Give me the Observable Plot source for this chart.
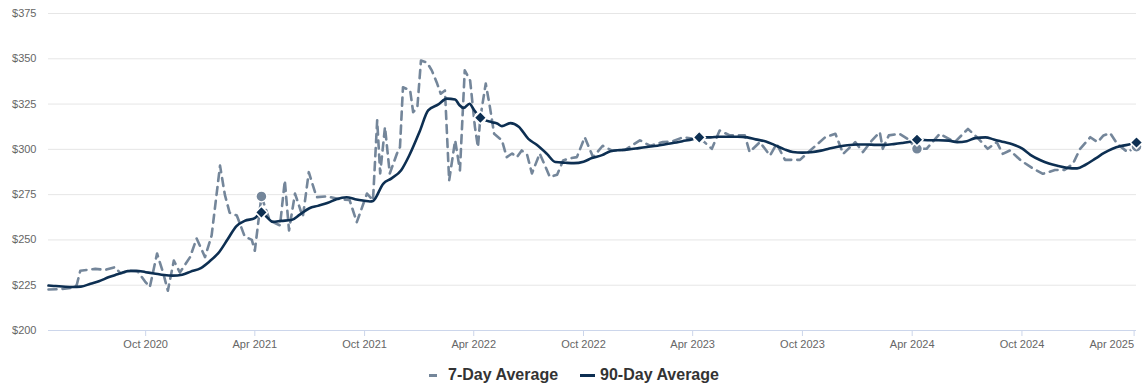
<!DOCTYPE html>
<html>
<head>
<meta charset="utf-8">
<script src="https://cdn.jsdelivr.net/npm/d3@7"></script>
<script src="https://cdn.jsdelivr.net/npm/@observablehq/plot@0.6"></script>
<style>
  html, body { margin: 0; padding: 0; background: #fff; }
  #wrap { width: 1148px; height: 389px; overflow: hidden; font-family: "Liberation Sans", Arial, sans-serif; }
  #legend { display: flex; justify-content: center; align-items: center; margin-top: 15px; height: 20px; line-height: 20px;
    font-weight: bold; font-size: 16px; color: #333333; }
  .item { display: flex; align-items: center; }
  .sym { display: inline-block; height: 3px; }
</style>
</head>
<body>
<div id="wrap">
  <div id="chart"></div>
  <div id="legend"></div>
</div>
<script>
// ---- data ----
const seriesNames = ["7-Day Average", "90-Day Average"];
const seriesColors = ["#74869a", "#0d2f52"];

const sevenDay = [
  ["2020-04-22",222.6],["2020-05-12",222.8],["2020-05-29",223.5],["2020-06-08",225],["2020-06-14",233],
  ["2020-07-09",234],["2020-07-26",233.5],["2020-08-11",235],["2020-08-20",231.5],["2020-09-05",233],
  ["2020-09-18",232.5],["2020-09-30",227],["2020-10-08",224],["2020-10-20",242.5],["2020-10-30",232],
  ["2020-11-07",222],["2020-11-17",238.6],["2020-11-27",232],["2020-12-14",240.5],["2020-12-25",250.8],
  ["2021-01-08",240.5],["2021-01-19",252.5],["2021-02-02",291],["2021-02-10",275],["2021-02-18",265],
  ["2021-03-02",263.5],["2021-03-15",252],["2021-03-27",250],["2021-04-01",244],["2021-04-12",274],
  ["2021-04-26",260.7],["2021-05-13",258],["2021-05-21",282.8],["2021-05-28",255.2],["2021-06-07",275.6],
  ["2021-06-20",262.6],["2021-06-30",287.4],["2021-07-13",273.6],["2021-07-30",274],["2021-08-21",272.5],
  ["2021-09-06",272],["2021-09-18",259.8],["2021-10-05",275.6],["2021-10-15",271.8],["2021-10-22",316],
  ["2021-10-27",286.7],["2021-11-04",312.3],["2021-11-12",286.7],["2021-11-24",297.7],["2021-11-29",301.2],
  ["2021-12-04",334.3],["2021-12-16",332.5],["2021-12-21",320.5],["2021-12-28",323.3],["2022-01-03",349],
  ["2022-01-13",348],["2022-01-21",343.6],["2022-01-30",336.3],["2022-02-05",330.7],["2022-02-12",332.5],
  ["2022-02-19",282.8],["2022-03-01",305],["2022-03-09",288.4],["2022-03-17",343.6],["2022-03-26",338],
  ["2022-04-03",312.3],["2022-04-08",301.2],["2022-04-12",317.5],["2022-04-21",336.3],["2022-04-28",323.3],
  ["2022-05-05",308.6],["2022-05-18",305],["2022-05-26",295.7],["2022-06-04",297.7],["2022-06-12",295.7],
  ["2022-06-20",299.4],["2022-06-29",297],["2022-07-07",286.7],["2022-07-20",297.7],["2022-08-06",284.7],
  ["2022-08-18",286],["2022-08-28",293.9],["2022-09-08",295],["2022-09-20",295.7],["2022-10-03",306.7],
  ["2022-10-17",295.7],["2022-11-02",302],["2022-11-17",299.4],["2022-12-09",299.6],["2023-01-03",305],
  ["2023-01-20",302],["2023-02-10",304],["2023-02-27",304.5],["2023-03-16",306.7],["2023-03-31",306],
  ["2023-04-12",306.6],["2023-05-03",300.3],["2023-05-16",310.4],["2023-06-02",307.7],["2023-06-27",307.7],
  ["2023-07-05",298.5],["2023-07-22",304],["2023-08-08",296.6],["2023-08-19",303],["2023-09-02",294.2],
  ["2023-09-27",294.2],["2023-10-14",299.4],["2023-11-08",306.7],["2023-11-25",308.6],["2023-12-08",297.5],
  ["2023-12-28",304],["2024-01-10",298.5],["2024-01-25",305],["2024-02-07",309.5],["2024-02-12",300.3],
  ["2024-02-22",307.7],["2024-03-11",308.6],["2024-03-24",305.9],["2024-04-09",300.3],["2024-04-25",300.3],
  ["2024-05-17",308.6],["2024-06-11",304],["2024-07-03",311.3],["2024-07-18",306.7],["2024-08-05",300.3],
  ["2024-08-20",304],["2024-08-30",297.5],["2024-09-11",299.4],["2024-09-29",293.9],["2024-10-19",289.5],
  ["2024-11-05",286.5],["2024-11-25",288.6],["2024-12-11",288.6],["2024-12-25",292],["2025-01-06",300.3],
  ["2025-01-23",306.7],["2025-02-04",304],["2025-02-14",307.7],["2025-02-25",309],["2025-03-09",303],
  ["2025-03-26",298.5],["2025-04-10",301.5]
];

const ninetyDay = [
  ["2020-04-22",224.8],["2020-05-01",224.6],["2020-05-15",224.3],["2020-06-01",224.0],["2020-06-15",224.2],
  ["2020-07-01",225.8],["2020-07-15",227.2],["2020-08-01",229.5],["2020-08-15",231],["2020-09-01",232.8],
  ["2020-09-15",233],["2020-10-01",232.2],["2020-10-15",231.5],["2020-11-01",230.6],["2020-11-15",230.3],
  ["2020-12-01",230.8],["2020-12-15",232.5],["2021-01-01",234.5],["2021-01-15",238],["2021-02-01",243.5],
  ["2021-02-15",250.5],["2021-03-01",257.5],["2021-03-15",260.5],["2021-04-01",262],["2021-04-12",265.2],
  ["2021-04-20",263],["2021-05-01",260],["2021-05-15",260.5],["2021-06-01",261],["2021-06-15",264],
  ["2021-07-01",267.5],["2021-07-15",268.8],["2021-08-01",270.5],["2021-08-15",272.5],["2021-09-01",273.6],
  ["2021-09-15",272.5],["2021-10-01",271.6],["2021-10-10",271.2],["2021-10-15",271.5],["2021-11-01",281],
  ["2021-11-15",284],["2021-12-01",288.5],["2021-12-15",297],["2022-01-01",310],["2022-01-15",321.5],
  ["2022-02-01",324.8],["2022-02-15",328],["2022-03-01",327.5],["2022-03-08",324.5],["2022-03-15",322.8],
  ["2022-03-25",325.2],["2022-04-01",322],["2022-04-12",317.5],["2022-05-01",315],["2022-05-10",314.3],
  ["2022-05-18",312.8],["2022-06-01",314.5],["2022-06-15",312.5],["2022-07-01",305.8],["2022-07-15",302.5],
  ["2022-08-01",297.5],["2022-08-15",293],["2022-09-01",292.6],["2022-09-15",292.4],["2022-10-01",293.2],
  ["2022-10-15",295.2],["2022-11-01",296.8],["2022-11-15",299],["2022-12-01",299.6],["2022-12-15",300],
  ["2023-01-01",300.7],["2023-01-15",301.3],["2023-02-01",302],["2023-02-15",302.8],["2023-03-01",303.6],
  ["2023-03-15",304.5],["2023-04-01",305.6],["2023-04-12",306.6],["2023-05-01",306.6],["2023-05-15",307],
  ["2023-06-01",307],["2023-06-15",307],["2023-07-01",306.6],["2023-07-15",305.5],["2023-08-01",304.4],
  ["2023-08-15",302.5],["2023-09-01",300],["2023-09-15",298.5],["2023-10-01",298.2],["2023-10-15",298.4],
  ["2023-11-01",299.3],["2023-11-15",300.5],["2023-12-01",301.6],["2023-12-15",302.3],["2024-01-01",302.7],
  ["2024-01-15",302.7],["2024-02-01",302.5],["2024-02-15",302.5],["2024-03-01",302.9],["2024-03-15",303.5],
  ["2024-04-01",304.5],["2024-04-09",305.3],["2024-05-01",305],["2024-05-15",305],["2024-06-01",304.8],
  ["2024-06-15",304],["2024-07-01",304.5],["2024-07-15",306.2],["2024-08-01",306.6],["2024-08-15",305.5],
  ["2024-09-01",304],["2024-09-15",302.8],["2024-10-01",300.5],["2024-10-15",297],["2024-11-01",294],
  ["2024-11-15",292.2],["2024-12-01",290.8],["2024-12-15",289.8],["2025-01-01",289.5],["2025-01-15",291.5],
  ["2025-02-01",295],["2025-02-15",298],["2025-03-01",300.3],["2025-03-15",301.8],["2025-04-01",302.9],
  ["2025-04-10",303.8]
];

const markerDates  = ["2021-04-12", "2022-04-12", "2023-04-12", "2024-04-09", "2025-04-10"];
const markerSeven  = [274, 317.5, 306.6, 300.3, 301.5];
const markerNinety = [265.2, 317.5, 306.6, 305.3, 303.8];

const xDomain = ["2020-04-22", "2025-04-10"];
const xTicks = ["2020-10-01","2021-04-01","2021-10-01","2022-04-01","2022-10-01","2023-04-01","2023-10-01","2024-04-01","2024-10-01","2025-04-01"];
const yTicks = [200, 225, 250, 275, 300, 325, 350, 375];

// ---- build ----
const parse = s => new Date(s + "T00:00:00Z");
const seven = sevenDay.map(([d, v]) => ({date: parse(d), value: v}));
const ninety = ninetyDay.map(([d, v]) => ({date: parse(d), value: v}));
const mSeven = markerDates.map((d, i) => ({date: parse(d), value: markerSeven[i]}));
const mNinety = markerDates.map((d, i) => ({date: parse(d), value: markerNinety[i]}));
const xTickDates = xTicks.map(parse);
const fmt = d3.utcFormat("%b %Y");

const chart = Plot.plot({
  width: 1148,
  height: 350,
  marginLeft: 48,
  marginRight: 12,
  marginTop: 13,
  marginBottom: 20,
  style: {fontFamily: '"Liberation Sans", Arial, sans-serif', fontSize: "11px", color: "#666666", background: "#fff"},
  x: {type: "utc", domain: xDomain.map(parse)},
  y: {domain: [200, 375]},
  marks: [
    Plot.gridY(yTicks, {stroke: "#e6e6e6", strokeOpacity: 1}),
    Plot.ruleY([200], {stroke: "#ccd6eb"}),
    Plot.axisY(yTicks, {tickSize: 0, tickPadding: 12, tickFormat: d => "$" + d, fill: "#666666", label: null}),
    Plot.axisX(xTickDates.slice(0, -1), {tickSize: 6, tickPadding: 4, stroke: "#ccd6eb", fill: "#666666",
      tickFormat: fmt, label: null}),
    Plot.axisX(xTickDates.slice(-1), {tickSize: 6, tickPadding: 4, stroke: "#ccd6eb", fill: "#666666",
      tickFormat: fmt, label: null, textAnchor: "end", dx: 3}),
    Plot.line(seven, {x: "date", y: "value", stroke: seriesColors[0], strokeWidth: 2.6,
      strokeDasharray: "8,6", curve: "linear"}),
    Plot.line(ninety, {x: "date", y: "value", stroke: seriesColors[1], strokeWidth: 2.6, curve: "monotone-x"}),
    Plot.dot(mSeven, {x: "date", y: "value", r: 5.5, fill: seriesColors[0], stroke: "#fff", strokeWidth: 1.5}),
    Plot.dot(mNinety, {x: "date", y: "value", r: 5.5, symbol: "diamond2", fill: seriesColors[1], stroke: "#fff", strokeWidth: 1.5})
  ]
});
document.getElementById("chart").appendChild(chart);

// legend
const legend = document.getElementById("legend");
const symWidths = [8, 15], symGaps = [11, 5];
seriesNames.forEach((name, i) => {
  const item = document.createElement("div");
  item.className = "item";
  if (i > 0) item.style.marginLeft = "22px";
  const sym = document.createElement("span");
  sym.className = "sym";
  sym.style.width = symWidths[i] + "px";
  sym.style.marginRight = symGaps[i] + "px";
  sym.style.background = seriesColors[i];
  const txt = document.createElement("span");
  txt.textContent = name;
  item.appendChild(sym);
  item.appendChild(txt);
  legend.appendChild(item);
});
</script>
</body>
</html>
